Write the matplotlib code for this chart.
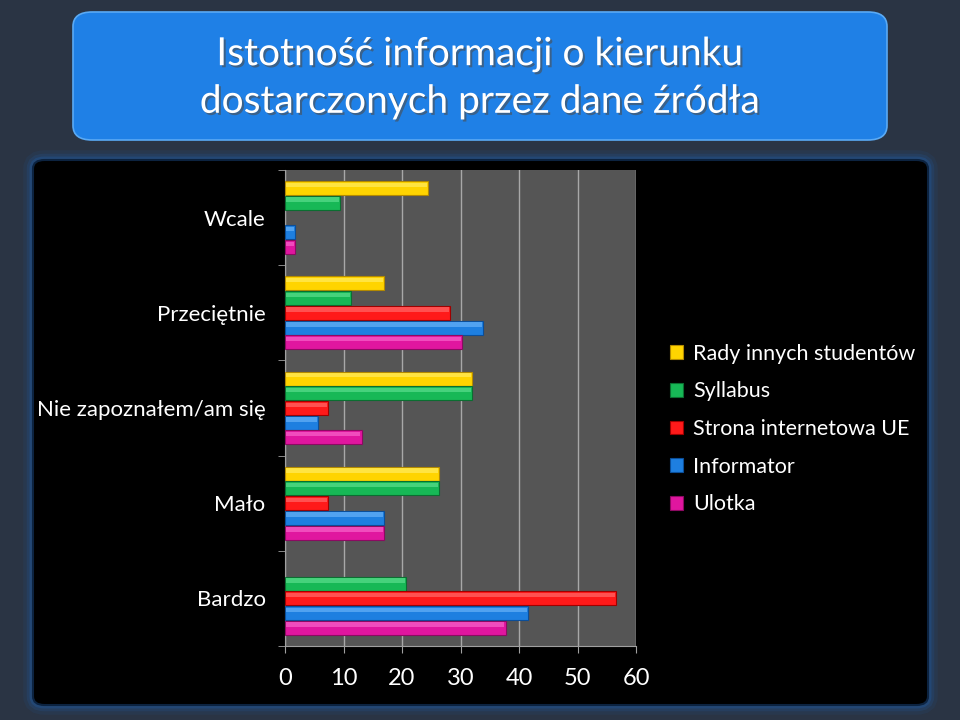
import matplotlib
matplotlib.use("Agg")
import matplotlib.pyplot as plt
import matplotlib.patheffects as pe
from matplotlib.patches import FancyBboxPatch, Patch
import numpy as np

plt.rcParams["font.family"] = ["Lato", "DejaVu Sans"]

# data (% of answers)
categories = ["Wcale", "Przeciętnie", "Nie zapoznałem/am się", "Mało", "Bardzo"]
series_names = ["Rady innych studentów", "Syllabus", "Strona internetowa UE",
                "Informator", "Ulotka"]
rady = [24.5, 16.9, 32.0, 26.4, 0.0]
syllabus = [9.4, 11.3, 32.0, 26.4, 20.7]
strona = [0.0, 28.2, 7.4, 7.4, 56.6]
informator = [1.7, 33.9, 5.6, 16.9, 41.5]
ulotka = [1.7, 30.2, 13.1, 16.9, 37.7]
xticks = [0, 10, 20, 30, 40, 50, 60]

colors = ["#FFD400", "#17B856", "#FF1A1A", "#1E7FE0", "#E0169F"]
edges = ["#B38A00", "#0B6E31", "#A00000", "#0B4E99", "#8C0A62"]
highlights = ["#FFF27A", "#6EE89C", "#FF8080", "#7CC0FF", "#FF7AD6"]

W, H = 960, 720
fig = plt.figure(figsize=(9.6, 7.2), dpi=100)
fig.patch.set_facecolor("#2a3444")


def fx(px):
    return px / W


def fy(py):
    return 1 - py / H


# black panel with blue glow
for lw, a in [(14, 0.10), (9, 0.18), (5, 0.3)]:
    fig.patches.append(FancyBboxPatch((fx(33), fy(705)), fx(928) - fx(33), fy(160) - fy(705),
                                      boxstyle="round,pad=0,rounding_size=0.012",
                                      transform=fig.transFigure, facecolor="none",
                                      edgecolor="#1d5ea8", linewidth=lw, alpha=a, zorder=-2))
fig.patches.append(FancyBboxPatch((fx(33), fy(705)), fx(928) - fx(33), fy(160) - fy(705),
                                  boxstyle="round,pad=0,rounding_size=0.012",
                                  transform=fig.transFigure, facecolor="#000000",
                                  edgecolor="#0c2340", linewidth=1.5, zorder=-1))

# title box
fig.patches.append(FancyBboxPatch((fx(73), fy(140)), fx(887) - fx(73), fy(12) - fy(140),
                                  boxstyle="round,pad=0,rounding_size=0.02",
                                  transform=fig.transFigure, facecolor="#1f80e6",
                                  edgecolor="#5aaaf5", linewidth=1.2, zorder=-1))
fig.text(0.5, fy(78), "Istotność informacji o kierunku\ndostarczonych przez dane źródła",
         ha="center", va="center", color="white", fontsize=28, linespacing=1.4,
         path_effects=[pe.withSimplePatchShadow(offset=(1.5, -1.5), alpha=0.6)])

ax = fig.add_axes([fx(285), fy(646), fx(636) - fx(285), fy(170) - fy(646)])
ax.set_zorder(2)
ax.set_facecolor("#555555")

n = len(series_names)
h = 0.774 / n
y = np.arange(len(categories))
data = [rady, syllabus, strona, informator, ulotka]
for j, vals in enumerate(data):
    vals = np.array(vals)
    pos = y + (j - (n - 1) / 2) * h
    keep = vals > 0
    ax.barh(pos[keep], vals[keep], height=h * 0.95, color=colors[j],
            edgecolor=edges[j], linewidth=0.8, zorder=3)
    # bevel highlight on the upper part of each bar
    ax.barh(pos[keep] - h * 0.22, vals[keep] - 0.4, left=0.2, height=h * 0.3,
            color=highlights[j], alpha=0.55, linewidth=0, zorder=4)

ax.set_ylim(len(categories) - 0.5, -0.5)
ax.set_xlim(0, 60)
ax.set_xticks(xticks)
ax.set_xticklabels([str(t) for t in xticks], color="white", fontsize=17)
ax.set_yticks(y)
ax.set_yticklabels(categories, color="white", fontsize=16)
ax.set_yticks(np.arange(-0.5, len(categories)), minor=True)
ax.tick_params(axis="y", which="major", length=0, pad=14)
ax.tick_params(axis="y", which="minor", length=5, color="#a0a0a0", direction="out")
ax.tick_params(axis="x", length=5, color="#a0a0a0", pad=11)
ax.grid(axis="x", color="#a8a8a8", linewidth=1, zorder=1)
ax.set_axisbelow(True)
for s in ["top", "right"]:
    ax.spines[s].set_visible(False)
for s in ["left", "bottom"]:
    ax.spines[s].set_color("#a0a0a0")

handles = [Patch(facecolor=c, edgecolor=e, linewidth=0.8) for c, e in zip(colors, edges)]
leg = fig.legend(handles, series_names, loc="center left",
                 bbox_to_anchor=(fx(651), fy(429)), frameon=False, fontsize=15.5,
                 handlelength=0.6, handleheight=0.6, handletextpad=0.45,
                 labelspacing=0.82)
leg.set_zorder(5)
for t in leg.get_texts():
    t.set_color("white")

fig.savefig("out.png", dpi=100, facecolor=fig.get_facecolor())
